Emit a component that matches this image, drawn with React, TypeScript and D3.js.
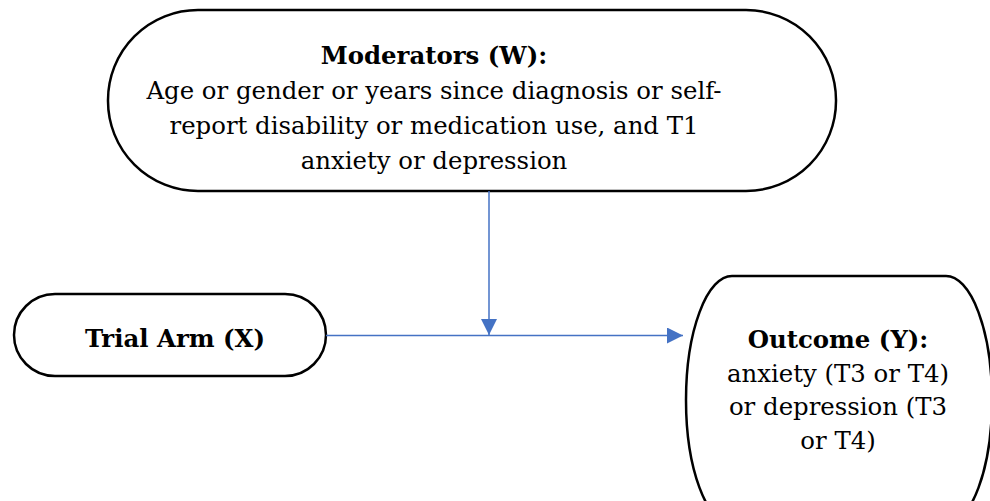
import React, { useEffect, useRef } from 'react';
import * as d3 from 'd3';

// node labels (first line bold)
const moderatorLines = [
    "Moderators (W):",
    "Age or gender or years since diagnosis or self-",
    "report disability or medication use, and T1",
    "anxiety or depression",
];
const trialLines = ["Trial Arm (X)"];
const outcomeLines = [
    "Outcome (Y):",
    "anxiety (T3 or T4)",
    "or depression (T3",
    "or T4)",
];

const W = 990;
const H = 501;
const FONT = "DejaVu Serif";
const BLUE = "#4472c4";

export default function App() {
    const ref = useRef<SVGSVGElement | null>(null);

    useEffect(() => {
        const svg = d3.select(ref.current);
        svg.selectAll("*").remove();

        const defs = svg.append("defs");
        defs.append("marker")
            .attr("id", "head")
            .attr("viewBox", "0 0 10 10")
            .attr("refX", 10)
            .attr("refY", 5)
            .attr("markerUnits", "userSpaceOnUse")
            .attr("markerWidth", 16)
            .attr("markerHeight", 16)
            .attr("orient", "auto")
            .append("path")
            .attr("d", "M0,0 L10,5 L0,10 Z")
            .attr("fill", BLUE);

        // boxes: x, y, w, h, rx, ry
        const boxes = [
            { x: 108, y: 10, w: 728, h: 181, rx: 90, ry: 90 },
            { x: 14, y: 294, w: 312, h: 82, rx: 41, ry: 41 },
            { x: 686, y: 276, w: 306, h: 248, rx: 46, ry: 124 },
        ];
        svg.selectAll("rect.box")
            .data(boxes)
            .enter()
            .append("rect")
            .attr("class", "box")
            .attr("x", d => d.x)
            .attr("y", d => d.y)
            .attr("width", d => d.w)
            .attr("height", d => d.h)
            .attr("rx", d => d.rx)
            .attr("ry", d => d.ry)
            .attr("fill", "white")
            .attr("stroke", "black")
            .attr("stroke-width", 2.5);

        // arrows
        const line = d3.line();
        svg.append("path")
            .attr("d", line([[326, 335.5], [683, 335.5]]))
            .attr("stroke", BLUE)
            .attr("stroke-width", 1.5)
            .attr("fill", "none")
            .attr("marker-end", "url(#head)");
        svg.append("path")
            .attr("d", line([[489, 191], [489, 335]]))
            .attr("stroke", BLUE)
            .attr("stroke-width", 1.5)
            .attr("fill", "none")
            .attr("marker-end", "url(#head)");

        const drawLines = (lines: string[], cx: number, y0: number, step: number, size: number) => {
            svg.append("g")
                .selectAll("text")
                .data(lines)
                .enter()
                .append("text")
                .attr("x", cx)
                .attr("y", (d, i) => y0 + i * step)
                .attr("text-anchor", "middle")
                .style("font-family", FONT)
                .style("font-size", size + "px")
                .style("font-weight", (d, i) => i === 0 ? "bold" : "normal")
                .attr("fill", "black")
                .text(d => d);
        };

        drawLines(moderatorLines, 434, 64, 35, 24.4);
        drawLines(trialLines, 175, 347, 35, 24.4);
        drawLines(outcomeLines, 838, 348, 33.5, 24.4);
    }, []);

    return (
        <svg ref={ref} width={W} height={H}
            style={{ position: "absolute", left: 0, top: 0, background: "white" }} />
    );
}
